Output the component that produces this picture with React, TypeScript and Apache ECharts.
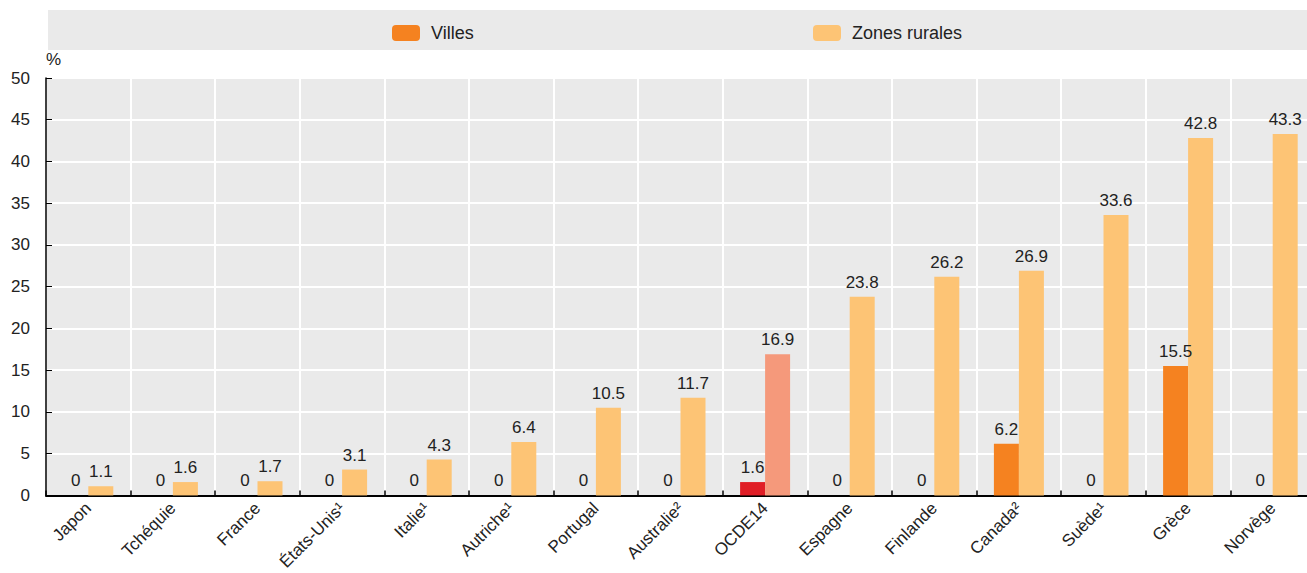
import React, { useEffect, useRef } from "react";
import * as echarts from "echarts";

const categories = [
  "Japon", "Tchéquie", "France", "États-Unis¹", "Italie¹", "Autriche¹", "Portugal",
  "Australie²", "OCDE14", "Espagne", "Finlande", "Canada²", "Suède¹", "Grèce", "Norvège",
];
const villes = [0, 0, 0, 0, 0, 0, 0, 0, 1.6, 0, 0, 6.2, 0, 15.5, 0];
const rurales = [1.1, 1.6, 1.7, 3.1, 4.3, 6.4, 10.5, 11.7, 16.9, 23.8, 26.2, 26.9, 33.6, 42.8, 43.3];
const highlight = "OCDE14";

const FONT = "'Liberation Sans Narrow', 'Arial Narrow', 'Liberation Sans', Arial, sans-serif";
const C_VILLES = "#F58220";
const C_RURAL = "#FDC475";
const C_VILLES_HL = "#E01E26";
const C_RURAL_HL = "#F5997B";

export default function App() {
  const ref = useRef<HTMLDivElement>(null);
  useEffect(() => {
    if (!ref.current) return;
    const chart = echarts.init(ref.current, undefined, { renderer: "svg" });
    const label = {
      show: true,
      position: "top" as const,
      distance: 6,
      color: "#222",
      fontSize: 17,
      fontFamily: FONT,
    };
    chart.setOption({
      animation: false,
      backgroundColor: "#fff",
      textStyle: { fontFamily: FONT },
      graphic: [
        {
          type: "rect",
          left: 48,
          top: 10,
          shape: { width: 1267, height: 40 },
          style: { fill: "#EAEAEA" },
          z: -1,
        },
        {
          type: "text",
          left: 46,
          top: 51,
          style: { text: "%", fontSize: 17, fill: "#222", fontFamily: FONT },
        },
      ],
      legend: [
        {
          data: ["Villes"],
          left: 387,
          top: 19,
          itemWidth: 28,
          itemHeight: 16,
          textStyle: { fontSize: 18, color: "#222", fontFamily: FONT, padding: [0, 0, 0, 6] },
          selectedMode: false,
        },
        {
          data: ["Zones rurales"],
          left: 808,
          top: 19,
          itemWidth: 28,
          itemHeight: 16,
          textStyle: { fontSize: 18, color: "#222", fontFamily: FONT, padding: [0, 0, 0, 6] },
          selectedMode: false,
        },
      ],
      grid: { left: 46, top: 78, bottom: 75, right: 0, containLabel: false, show: true, backgroundColor: "#EAEAEA", borderWidth: 0 },
      xAxis: {
        type: "category",
        data: categories,
        axisLine: { lineStyle: { color: "#000", width: 2 } },
        axisTick: { show: true, inside: true, length: 5, lineStyle: { color: "#000", width: 1.5 } },
        splitLine: { show: true, lineStyle: { color: "#fff", width: 2 } },
        axisLabel: { rotate: 45, fontSize: 17, color: "#222", margin: 10, interval: 0, fontFamily: FONT },
      },
      yAxis: {
        type: "value",
        min: 0,
        max: 50,
        interval: 5,
        axisLine: { show: true, lineStyle: { color: "#000", width: 1.5 } },
        axisTick: { show: true, inside: true, length: 6, lineStyle: { color: "#000" } },
        splitLine: { show: true, lineStyle: { color: "#fff", width: 2 } },
        axisLabel: { fontSize: 17, color: "#222", margin: 16, fontFamily: FONT },
      },
      series: [
        {
          name: "Villes",
          type: "bar",
          barWidth: 25,
          barGap: "0%",
          itemStyle: { color: C_VILLES },
          label,
          data: villes.map((v, i) =>
            categories[i] === highlight ? { value: v, itemStyle: { color: C_VILLES_HL } } : v
          ),
        },
        {
          name: "Zones rurales",
          type: "bar",
          barWidth: 25,
          barGap: "0%",
          itemStyle: { color: C_RURAL },
          label,
          data: rurales.map((v, i) =>
            categories[i] === highlight ? { value: v, itemStyle: { color: C_RURAL_HL } } : v
          ),
        },
      ],
    });
    return () => chart.dispose();
  }, []);
  return (
    <div style={{ position: "fixed", left: 0, top: 0, width: 1307, height: 573, overflow: "hidden" }}>
      <div ref={ref} style={{ width: 1315, height: 573 }} />
    </div>
  );
}
